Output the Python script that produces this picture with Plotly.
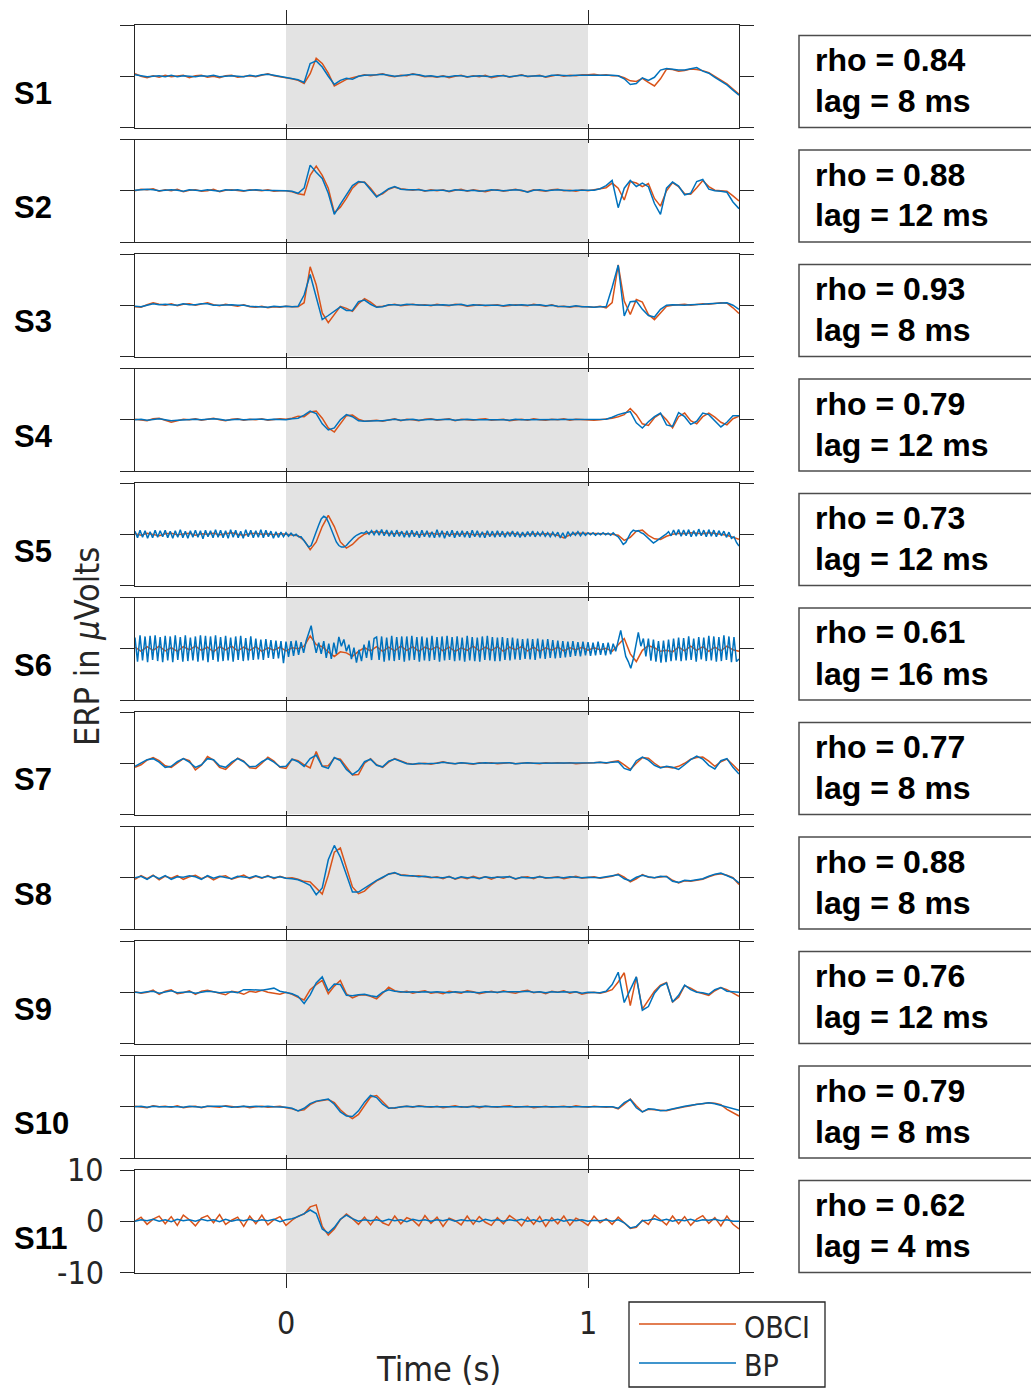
import plotly.graph_objects as go

W, H = 1031, 1391

# ---------------- data ----------------
# common time axis (s), 0.02 s steps from -0.5 to 1.5
t = [round(-0.5 + 0.02 * i, 4) for i in range(101)]
# finer time axis (1/120 s) used for the two BP traces with line noise
t_fine = [round(-0.5 + k / 120.0, 5) for k in range(241)]

subjects = ["S1", "S2", "S3", "S4", "S5", "S6", "S7", "S8", "S9", "S10", "S11"]
rho = ["0.84", "0.88", "0.93", "0.79", "0.73", "0.61", "0.77", "0.88", "0.76", "0.79", "0.62"]
lag_ms = [8, 12, 8, 12, 12, 16, 8, 8, 12, 8, 4]

s1_obci = [0.5, 0.0, -0.3, 0.1, -0.2, 0.2, -0.1, 0.0, 0.2, -0.3,
           0.1, 0.2, -0.2, 0.0, -0.3, 0.1, 0.2, -0.2, 0.0, 0.1,
           -0.1, 0.2, 0.5, 0.1, -0.1, -0.2, -0.5, -0.8, -1.4, 0.5,
           3.5, 2.5, 0.6, -1.9, -1.2, -0.6, -0.3, 0.0, 0.3, 0.1,
           0.3, 0.5, 0.1, -0.1, 0.2, 0.1, 0.5, 0.2, -0.1, 0.0,
           -0.2, 0.1, -0.3, 0.0, 0.2, -0.2, 0.1, -0.1, 0.2, -0.3,
           0.0, 0.2, -0.2, 0.1, 0.3, -0.1, 0.0, 0.2, -0.2, 0.1,
           0.3, 0.0, 0.2, 0.1, 0.3, 0.3, 0.4, 0.2, 0.3, 0.1,
           0.1, -0.3, -0.9, -1.0, -0.4, -1.2, -1.9, -0.5, 1.4, 1.3,
           1.0, 1.1, 1.4, 1.3, 1.1, 0.7, 0.0, -0.7, -1.5, -2.5,
           -3.5]
s1_bp = [0.3, 0.1, -0.1, 0.0, 0.1, -0.1, 0.2, -0.1, 0.1, 0.0,
         -0.1, 0.1, 0.0, 0.2, -0.1, 0.0, 0.1, 0.0, -0.1, 0.2,
         0.0, 0.3, 0.4, 0.2, 0.0, -0.2, -0.4, -0.7, -1.2, 2.5,
         3.0, 1.8, 0.0, -1.6, -0.8, -0.4, -0.6, 0.0, 0.2, 0.2,
         0.3, 0.4, 0.2, 0.0, 0.1, 0.2, 0.4, 0.3, 0.0, 0.1,
         -0.1, 0.0, -0.1, 0.1, 0.1, -0.1, 0.0, 0.1, 0.0, -0.1,
         0.1, 0.1, -0.1, 0.0, 0.2, 0.0, 0.1, 0.1, -0.1, 0.2,
         0.2, 0.1, 0.1, 0.2, 0.2, 0.3, 0.3, 0.3, 0.2, 0.2,
         0.1, -0.5, -1.6, -1.4, -0.3, -0.8, -0.2, 1.2, 1.5, 1.3,
         1.2, 1.2, 1.5, 1.7, 1.0, 0.6, -0.2, -0.9, -1.7, -2.7,
         -3.7]

s2_obci = [0.0, 0.3, 0.2, 0.4, -0.1, 0.2, 0.0, 0.3, -0.2, 0.1,
           0.2, -0.1, 0.0, 0.3, -0.2, 0.1, 0.2, 0.0, -0.1, 0.2,
           0.1, 0.0, 0.2, -0.1, 0.0, 0.0, -0.2, -0.6, -0.8, 3.0,
           4.8, 3.0, 0.5, -4.3, -3.2, -1.5, 0.5, 1.6, 1.7, 0.5,
           -1.0, -0.6, 0.3, 0.7, 0.4, 0.3, 0.1, 0.3, -0.1, 0.2,
           0.0, 0.2, -0.2, 0.1, 0.3, -0.1, 0.2, 0.0, -0.2, 0.1,
           0.2, -0.1, 0.1, 0.3, 0.0, -0.2, 0.2, 0.1, -0.1, 0.2,
           0.3, 0.0, 0.1, -0.1, 0.2, 0.0, 0.2, 0.3, 0.6, 1.5,
           0.5, -1.8, 1.8, 1.5, 0.8, 1.4, -1.5, -3.0, 0.0, 1.6,
           0.8, -0.6, -0.7, 0.6, 2.0, 0.8, 0.1, 0.0, -0.1, -1.0,
           -2.0]
s2_bp = [0.1, 0.2, 0.3, 0.2, 0.0, 0.1, 0.2, 0.1, -0.1, 0.2,
         0.1, 0.0, 0.2, 0.1, -0.1, 0.2, 0.1, 0.2, 0.0, 0.1,
         0.2, 0.1, 0.1, 0.0, 0.1, 0.0, -0.1, -0.5, 0.5, 5.0,
         3.6, 2.4, -0.5, -4.6, -2.6, -0.9, 1.0, 1.8, 1.6, 0.2,
         -1.2, -0.4, 0.4, 0.8, 0.3, 0.2, 0.2, 0.2, 0.0, 0.1,
         0.1, 0.1, -0.1, 0.2, 0.1, 0.0, 0.1, -0.1, 0.0, 0.2,
         0.1, 0.0, 0.1, 0.2, 0.1, -0.3, 0.1, 0.2, 0.0, 0.1,
         0.2, 0.1, 0.0, 0.1, 0.1, 0.0, 0.1, 0.4, 1.0, 2.0,
         -3.3, 0.5, 2.0, 0.8, 1.5, 0.8, -2.5, -4.6, 0.5, 1.7,
         0.9, -0.8, -0.5, 1.8, 2.2, 0.3, 0.0, -0.1, -0.3, -2.2,
         -3.5]

s3_obci = [-0.3, -0.4, 0.1, 0.5, 0.2, 0.0, 0.3, -0.1, 0.2, 0.3,
           0.0, 0.2, 0.5, 0.1, -0.1, 0.2, 0.0, -0.2, 0.1, -0.3,
           -0.4, -0.2, -0.5, -0.3, -0.4, -0.2, -0.3, -0.3, 0.5, 7.5,
           4.0, -1.5, -3.4, -1.8, -0.2, -0.6, -1.2, 0.3, 1.3, 0.6,
           -0.3, -0.2, 0.0, 0.2, -0.1, 0.1, 0.2, 0.0, 0.1, -0.1,
           0.2, 0.0, -0.1, 0.2, 0.1, -0.2, 0.0, 0.1, -0.1, 0.0,
           0.1, -0.2, 0.0, 0.1, 0.0, -0.1, 0.2, 0.0, -0.2, 0.1,
           -0.3, -0.2, -0.4, -0.2, -0.3, -0.3, -0.4, -0.2, -0.5, 0.5,
           7.9, 0.8, -1.8, 1.1, 0.6, -1.8, -2.8, -1.5, -0.2, 0.0,
           0.1, 0.2, 0.0, 0.2, 0.3, 0.2, 0.4, 0.5, 0.4, -0.5,
           -1.6]
s3_bp = [-0.2, -0.3, 0.0, 0.3, 0.1, 0.2, 0.1, 0.0, 0.3, 0.1,
         0.1, 0.3, 0.3, 0.0, 0.0, 0.1, 0.1, 0.0, 0.0, -0.2,
         -0.3, -0.3, -0.4, -0.2, -0.3, -0.2, -0.3, -0.2, 2.0, 6.0,
         1.5, -2.8, -2.0, -1.2, -0.3, -1.0, -1.0, 0.7, 1.0, 0.2,
         -0.4, -0.3, 0.1, 0.1, 0.0, 0.2, 0.1, 0.1, 0.0, 0.0,
         0.1, 0.1, 0.0, 0.1, 0.2, -0.1, 0.1, 0.0, 0.0, 0.1,
         0.0, -0.1, 0.1, 0.0, 0.1, 0.0, 0.1, 0.1, -0.1, 0.0,
         -0.2, -0.3, -0.3, -0.1, -0.3, -0.3, -0.4, -0.3, -0.3, 3.5,
         7.8, -2.1, 0.7, 0.8, -0.8, -2.0, -2.3, -0.8, 0.0, 0.1,
         0.0, 0.0, 0.1, 0.1, 0.2, 0.3, 0.4, 0.5, 0.5, 0.0,
         -0.8]

s4_obci = [0.1, 0.0, -0.2, 0.2, 0.3, -0.1, -0.5, -0.2, 0.1, 0.0,
           0.2, -0.1, 0.1, 0.3, 0.0, -0.2, 0.1, 0.2, -0.1, 0.1,
           0.0, 0.2, -0.1, 0.1, 0.2, 0.1, 0.3, 0.7, 0.6, 1.5,
           1.7, 0.3, -1.6, -2.4, -0.8, 0.8, 0.9, 0.1, -0.3, -0.2,
           -0.1, -0.3, 0.0, 0.2, -0.2, 0.1, 0.0, -0.2, 0.1, 0.2,
           -0.1, 0.0, 0.2, -0.2, 0.1, 0.0, -0.1, 0.1, 0.2, -0.1,
           0.0, 0.1, -0.2, 0.0, 0.1, -0.1, 0.2, 0.0, -0.1, 0.1,
           0.0, 0.2, -0.1, 0.1, 0.0, 0.0, -0.1, 0.0, 0.1, 0.3,
           0.6, 1.0, 2.2, 1.0, -0.8, -1.1, 0.4, 1.2, 0.0, -1.6,
           0.6, 1.3, -0.2, -0.8, 0.6, 1.3, 0.5, -0.5, -1.0, 0.2,
           0.7]
s4_bp = [0.0, 0.1, -0.1, 0.1, 0.2, 0.0, -0.2, -0.1, 0.0, 0.1,
         0.1, 0.0, 0.1, 0.2, 0.1, -0.1, 0.0, 0.1, 0.0, 0.1,
         0.1, 0.1, 0.0, 0.1, 0.1, 0.0, 0.2, 0.3, 0.9, 1.7,
         1.2, -0.8, -2.0, -1.6, 0.0, 1.0, 0.6, -0.2, -0.3, -0.2,
         -0.2, -0.2, 0.0, 0.1, -0.1, 0.0, 0.1, -0.1, 0.0, 0.1,
         0.0, 0.1, 0.1, -0.1, 0.0, 0.1, 0.0, 0.0, 0.1, 0.0,
         0.0, 0.0, -0.1, 0.1, 0.0, 0.0, 0.1, 0.0, 0.0, 0.1,
         0.0, 0.1, 0.0, 0.0, 0.1, 0.0, 0.0, 0.1, 0.1, 0.5,
         1.0, 1.3, 1.6, -0.6, -1.6, -0.4, 0.6, 1.3, -1.0, -1.3,
         1.4, 0.6, -0.9, -0.3, 1.3, 1.0, -0.3, -1.4, -0.5, 0.8,
         0.8]

s5_obci = [0.1, -0.2, 0.2, 0.0, -0.3, 0.1, 0.2, -0.1, 0.0, 0.2,
           -0.2, 0.1, 0.0, 0.2, -0.1, 0.1, 0.3, 0.0, -0.2, 0.1,
           0.2, 0.0, 0.1, -0.1, 0.1, 0.0, -0.1, -0.3, -1.2, -3.0,
           -1.5, 1.5, 3.7, 1.5, -1.5, -2.7, -2.0, -0.8, 0.0, 0.4,
           0.5, 0.3, 0.2, 0.1, 0.3, 0.0, 0.2, -0.1, 0.1, 0.2,
           0.0, 0.2, -0.1, 0.1, 0.0, 0.2, -0.1, 0.0, 0.1, -0.1,
           0.1, 0.0, 0.2, 0.1, -0.1, 0.0, 0.1, 0.0, 0.1, 0.0,
           -0.2, -0.7, -0.1, 0.2, 0.2, 0.1, 0.1, 0.2, 0.1, 0.0,
           -0.2, -1.2, -0.6, 0.6, 0.8, -0.2, -0.9, -1.0, -0.4, 0.0,
           0.2, 0.1, 0.3, 0.2, 0.1, 0.3, 0.2, 0.0, -0.2, -0.6,
           -1.0]
s5_bp = [0.6, -0.7, 0.8, -0.6, 0.7, -0.8, 0.5, -0.7, 0.8, -0.6, 0.7, -0.5,
         0.8, -0.7, 0.6, -0.8, 0.7, -0.6, 0.9, -0.7, 0.6, -0.8, 0.7, -0.6,
         0.8, -0.6, 0.7, -0.9, 0.8, -0.5, 0.7, -0.7, 0.9, -0.6, 0.8, -0.7,
         0.7, -0.8, 0.9, -0.6, 0.8, -0.7, 0.6, -0.8, 0.9, -0.5, 0.8, -0.7,
         0.7, -0.6, 0.9, -0.7, 0.8, -0.5, 0.6, -0.8, 0.5, -0.6, 0.4, -0.5,
         0.3, -0.4, 0.2, -0.3, 0.0, -0.5, -0.5, -1.2, -1.8, -2.5, -2.2, -1.0,
         0.5, 1.8, 3.0, 3.5, 3.2, 2.2, 1.0, -0.3, -1.5, -2.2, -2.5, -2.5,
         -2.2, -1.6, -1.0, -0.6, -0.2, 0.1, 0.3, 0.2, 0.6, 0.0, 0.7, -0.1,
         0.8, -0.2, 0.9, -0.3, 0.8, -0.4, 0.7, -0.5, 0.8, -0.4, 0.6, -0.6,
         0.7, -0.6, 0.8, -0.5, 0.6, -0.7, 0.8, -0.5, 0.7, -0.6, 0.5, -0.7,
         0.9, -0.6, 0.7, -0.8, 0.6, -0.5, 0.8, -0.7, 0.6, -0.5, 0.7, -0.6,
         0.6, -0.7, 0.8, -0.5, 0.7, -0.6, 0.5, -0.7, 0.7, -0.5, 0.6, -0.6,
         0.7, -0.5, 0.6, -0.6, 0.5, -0.4, 0.6, -0.5, 0.5, -0.6, 0.4, -0.5,
         0.5, -0.4, 0.6, -0.5, 0.4, -0.3, 0.5, -0.4, 0.3, -0.5, 0.4, -0.4,
         0.4, -0.7, 0.3, -0.8, 0.5, -0.3, 0.4, -0.2, 0.5, -0.3, 0.4, -0.2,
         0.3, -0.1, 0.3, -0.2, 0.2, -0.1, 0.3, -0.1, 0.2, -0.2, 0.3, -0.2,
         -0.5, -1.2, -2.0, -1.6, -0.6, 0.3, 0.8, 0.6, 0.7, 0.3, 0.1, -0.4,
         -0.8, -1.3, -1.7, -1.4, -1.0, -0.6, -0.3, 0.0, 0.5, -0.3, 0.8, -0.2,
         0.9, -0.4, 0.8, -0.3, 0.9, -0.5, 0.7, -0.4, 1.0, -0.3, 0.8, -0.5,
         0.9, -0.4, 0.8, -0.5, 0.7, -0.3, 0.6, -0.6, 0.4, -0.8, -0.5, -1.6,
         -2.3]

s6_obci = [0.3, -0.5, 0.4, -0.3, 0.5, -0.4, 0.2, -0.5, 0.4, -0.2,
           0.5, -0.3, 0.3, -0.6, 0.4, -0.2, 0.5, -0.4, 0.3, -0.3,
           0.4, -0.5, 0.2, -0.3, 0.3, -0.4, 0.2, 0.0, 0.5, 2.5,
           0.8, 0.4, -0.6, -1.5, -0.6, -0.8, -1.5, -0.5, 0.2, -0.4,
           0.4, -0.5, 0.3, -0.4, 0.5, -0.3, 0.4, -0.5, 0.3, -0.2,
           0.4, -0.4, 0.3, -0.5, 0.2, -0.3, 0.5, -0.4, 0.3, -0.3,
           0.4, -0.5, 0.3, -0.2, 0.4, -0.4, 0.3, -0.5, 0.2, -0.3,
           0.3, -0.4, 0.2, -0.2, 0.3, -0.3, 0.2, -0.2, 0.1, -0.5,
           0.8, 2.0, -1.0, -2.5, -0.3, 0.6, 0.2, -0.5, -0.3, -0.6,
           0.3, -0.4, 0.5, -0.3, 0.4, -0.5, 0.3, -0.4, 0.5, -0.2,
           -0.5]
s6_bp = [2.2, -2.5, 2.6, -2.3, 2.4, -2.6, 2.5, -2.2, 2.6, -2.4, 2.3, -2.6,
         2.5, -2.3, 2.4, -2.6, 2.6, -2.2, 2.3, -2.5, 2.6, -2.4, 2.2, -2.3,
         2.4, -2.5, 2.6, -2.3, 2.5, -2.6, 2.4, -2.2, 2.6, -2.5, 2.3, -2.4,
         2.5, -2.3, 2.2, -2.5, 2.4, -2.2, 2.5, -2.4, 2.1, -2.3, 2.4, -2.2,
         2.0, -2.1, 1.8, -2.2, 1.9, -1.8, 1.7, -2.0, 1.6, -1.9, 1.5, -2.8,
         1.4, -1.6, 1.5, -1.4, 1.6, -1.2, 1.3, -0.8, 1.5, 3.0, 4.5, 1.5,
         -0.8, 1.2, -1.0, 1.5, -1.8, 1.0, -2.0, 1.2, -1.0, 2.3, 0.5, 1.8,
         -0.5, 0.8, -2.0, 0.2, -2.7, -0.2, -2.4, 0.8, -1.8, 1.6, -2.2, 2.0,
         2.3, -2.2, 2.4, -2.5, 2.2, -2.3, 2.5, -2.4, 2.3, -2.2, 2.4, -2.5,
         2.4, -2.3, 2.5, -2.2, 2.3, -2.5, 2.4, -2.3, 2.2, -2.4, 2.5, -2.2,
         2.3, -2.5, 2.4, -2.3, 2.5, -2.2, 2.3, -2.4, 2.4, -2.3, 2.2, -2.5,
         2.5, -2.3, 2.3, -2.4, 2.2, -2.5, 2.4, -2.2, 2.5, -2.3, 2.3, -2.4,
         2.2, -2.4, 2.3, -2.2, 2.1, -2.3, 2.2, -2.1, 2.0, -2.2, 1.9, -2.0,
         2.0, -2.1, 1.9, -2.2, 2.0, -1.9, 1.8, -2.0, 1.9, -1.8, 1.7, -1.9,
         1.6, -1.8, 1.5, -1.7, 1.4, -1.6, 1.5, -1.4, 1.3, -1.5, 1.4, -1.3,
         1.3, -1.4, 1.2, -1.3, 1.4, -1.2, 1.1, -1.3, 1.2, -1.1, 1.0, -0.5,
         1.5, 3.6, 1.0, -1.5, -2.5, -3.8, -2.0, 0.5, 3.2, 0.5, 2.0, -1.5,
         2.0, -2.3, 1.8, -2.5, 1.5, -2.7, 1.6, -2.6, 1.8, -2.4, 2.0, -2.3,
         2.2, -2.4, 2.1, -2.3, 2.4, -2.2, 2.0, -2.5, 2.3, -2.1, 2.2, -2.4,
         2.5, -2.3, 2.4, -2.5, 2.3, -2.4, 2.6, -2.2, 2.4, -2.6, 2.3, -2.5,
         -2.0]

s7_obci = [-0.8, -0.3, 0.6, 1.1, 0.5, -0.5, -0.8, 0.0, 0.9, 0.5,
           -1.3, -0.4, 1.3, 0.6, -0.8, -1.2, 0.0, 1.0, 0.4, -0.9,
           -1.0, 0.0, 1.2, 0.4, -0.8, -1.0, 0.8, 0.5, -0.3, -0.9,
           2.3, -0.6, -0.5, 1.0, 0.8, -0.8, -2.3, -2.2, 0.0, 0.9,
           -0.3, -0.8, 0.2, 0.9, 0.5, 0.0, -0.2, -0.1, 0.0, -0.2,
           0.1, 0.3, 0.0, -0.1, 0.1, 0.0, -0.2, 0.1, 0.0, 0.1,
           -0.1, 0.0, 0.1, -0.1, 0.0, 0.1, 0.0, -0.1, 0.1, 0.0,
           0.1, 0.0, 0.1, -0.1, 0.0, 0.0, 0.1, 0.2, 0.0, 0.3,
           0.5, -0.3, -1.2, 0.0, 1.1, 1.0, 0.0, -0.8, -0.7, -0.9,
           -0.6, 0.0, 0.8, 1.1, 1.2, 0.4, -0.6, 0.3, 0.8, -0.3,
           -1.5]
s7_bp = [-0.6, 0.0, 0.7, 0.9, 0.2, -0.8, -0.6, 0.3, 0.9, 0.2,
         -0.8, -0.3, 0.9, 0.7, -0.5, -0.8, 0.2, 0.9, 0.3, -0.7,
         -0.6, 0.3, 0.9, 0.2, -0.7, -0.6, 0.8, 0.3, -0.6, 0.9,
         1.6, -0.6, -1.0, 1.1, 0.5, -1.2, -2.2, -1.4, 0.3, 0.8,
         -0.4, -0.7, 0.4, 0.8, 0.3, -0.1, -0.2, 0.0, -0.1, -0.1,
         0.0, 0.2, 0.0, -0.1, 0.1, 0.0, -0.1, 0.0, 0.1, 0.0,
         0.0, 0.0, 0.1, -0.1, 0.0, 0.1, 0.0, 0.0, 0.0, 0.1,
         0.0, 0.1, 0.0, 0.0, 0.0, 0.1, 0.1, 0.2, 0.1, 0.2,
         0.3, -1.0, -1.4, 0.5, 1.2, 0.6, -0.4, -0.9, -0.6, -0.8,
         -1.2, -0.3, 0.7, 1.4, 0.8, -0.4, -1.1, 0.5, 0.9, -0.8,
         -2.1]

s8_obci = [-0.3, 0.4, -0.2, 0.5, -0.4, 0.3, -0.1, 0.4, -0.3, 0.2,
           0.5, -0.2, 0.3, -0.4, 0.2, 0.4, -0.3, 0.1, 0.5, -0.2,
           0.3, -0.1, 0.4, -0.2, 0.3, -0.1, 0.0, -0.3, -0.7, -0.8,
           -2.0, -3.2, 0.5, 5.0, 5.8, 2.0, -1.8, -3.1, -2.6, -1.5,
           -0.6, 0.0, 0.8, 0.9, 0.6, 0.5, 0.3, 0.4, 0.2, 0.0,
           0.2, -0.2, 0.3, -0.3, 0.1, -0.2, 0.3, -0.1, 0.2, -0.3,
           0.2, -0.1, 0.3, -0.3, 0.1, 0.2, -0.2, 0.3, -0.1, 0.1,
           0.2, -0.2, 0.1, 0.3, -0.1, 0.0, 0.2, -0.1, 0.1, 0.3,
           0.7, 0.1, -0.8, -0.2, 0.6, 0.1, 0.0, 0.2, 0.3, -0.5,
           -1.0, -0.6, -0.7, -0.5, -0.3, 0.2, 0.6, 0.8, 0.5, 0.0,
           -1.3]
s8_bp = [0.0, 0.3, -0.3, 0.4, -0.2, 0.4, -0.3, 0.2, 0.1, 0.4,
         0.2, -0.3, 0.4, -0.1, 0.3, 0.1, -0.2, 0.3, 0.2, 0.0,
         0.4, 0.0, 0.3, 0.0, 0.2, -0.1, -0.2, -0.4, -0.9, -1.5,
         -3.3, -2.0, 3.5, 6.3, 4.0, 0.5, -2.8, -2.8, -2.0, -1.2,
         -0.5, 0.1, 0.7, 1.0, 0.5, 0.4, 0.4, 0.2, 0.3, 0.1,
         0.1, 0.0, 0.2, -0.2, 0.2, 0.0, 0.1, -0.2, 0.2, 0.0,
         0.1, 0.1, 0.2, -0.2, 0.1, 0.0, 0.0, 0.2, 0.0, 0.0,
         0.1, 0.0, 0.2, 0.1, 0.0, 0.1, 0.1, 0.0, 0.2, 0.4,
         0.6, -0.2, -0.6, 0.1, 0.5, 0.2, 0.0, 0.3, 0.2, -0.7,
         -0.9, -0.5, -0.6, -0.4, -0.2, 0.3, 0.7, 0.9, 0.4, -0.1,
         -1.0]

s9_obci = [0.1, -0.2, 0.0, 0.4, -0.4, 0.2, 0.5, -0.3, -0.1, 0.3,
           -0.4, 0.2, 0.4, 0.1, -0.3, -0.5, 0.2, 0.0, -0.4, 0.2,
           0.0, 0.4, 0.0, -0.2, -0.4, 0.0, -0.4, -1.0, -1.5, 0.5,
           1.5, 2.3, -0.3, 1.2, 2.3, -0.3, -1.1, -0.6, -0.5, -0.8,
           -1.3, -0.2, 1.0, 0.3, 0.0, 0.2, -0.2, 0.1, 0.3, -0.2,
           0.0, -0.3, 0.2, 0.0, -0.2, 0.3, 0.1, -0.3, 0.0, 0.2,
           -0.1, 0.3, 0.0, -0.2, 0.2, 0.4, -0.1, 0.1, -0.3, 0.2,
           0.0, 0.3, -0.2, 0.1, -0.4, -0.1, 0.0, -0.2, 0.1, 0.5,
           2.0, 3.8, -2.6, 3.0, -3.3, -1.5, 0.2, 1.4, 1.9, -1.9,
           -1.0, 1.3, 0.8, 0.1, -0.2, -0.6, 0.3, 0.9, 0.5, -0.2,
           -0.8]
s9_bp = [0.0, -0.1, 0.1, 0.2, -0.2, 0.1, 0.3, -0.1, 0.0, 0.1,
         -0.2, 0.0, 0.2, 0.1, -0.1, 0.0, 0.1, -0.1, 0.5, 0.5,
         0.4, 0.4, 0.6, 0.8, 0.2, 0.0, -0.3, -0.8, -2.2, -0.5,
         1.8, 3.0, 0.3, 1.6, 1.5, -0.6, -0.7, -0.5, -0.4, -0.7,
         -0.9, 0.0, 0.5, 0.2, 0.1, 0.0, 0.1, 0.0, 0.1, 0.0,
         0.1, 0.0, -0.1, 0.1, 0.0, 0.1, 0.0, -0.1, 0.1, 0.0,
         0.0, 0.1, 0.1, 0.0, 0.1, 0.2, 0.0, 0.1, -0.1, 0.1,
         0.0, 0.1, 0.0, 0.1, -0.2, 0.0, 0.0, -0.1, 0.2, 1.5,
         3.9, -2.0, 0.5, 3.0, -3.5, -2.8, -0.2, 1.2, 1.8, -1.9,
         -0.6, 1.4, 0.5, 0.0, -0.1, -0.4, 0.5, 0.9, 0.2, 0.1,
         0.0]

s10_obci = [0.1, 0.0, -0.2, 0.2, 0.0, 0.1, -0.1, 0.2, -0.2, 0.0,
            0.1, -0.2, 0.1, 0.0, -0.1, 0.2, 0.0, -0.1, 0.1, -0.2,
            0.0, 0.1, -0.1, 0.0, 0.1, -0.2, -0.4, -0.8, -0.6, 0.4,
            1.0, 1.2, 1.4, 0.8, -0.6, -1.6, -2.3, -1.5, 0.3, 1.9,
            2.2, 1.0, -0.2, -0.3, 0.0, 0.1, -0.1, 0.2, 0.0, -0.1,
            0.1, -0.2, 0.0, 0.2, -0.1, 0.0, 0.1, -0.2, 0.1, 0.0,
            -0.1, 0.1, 0.2, -0.1, 0.0, 0.1, -0.2, 0.0, 0.1, -0.1,
            0.0, 0.1, -0.1, 0.2, 0.0, -0.1, 0.1, 0.0, -0.1, 0.0,
            -0.4, 0.5, 1.5, 0.2, -1.0, -0.5, -0.6, -0.8, -0.8, -0.5,
            -0.2, 0.0, 0.2, 0.5, 0.6, 0.8, 0.7, 0.4, -0.5, -1.2,
            -1.8]
s10_bp = [0.0, 0.1, -0.1, 0.1, 0.0, 0.0, 0.1, 0.0, -0.1, 0.1,
          0.0, -0.1, 0.1, 0.1, 0.0, 0.1, -0.1, 0.0, 0.1, 0.0,
          0.1, 0.0, 0.1, 0.0, 0.0, -0.1, -0.3, -0.8, -0.3, 0.6,
          1.1, 1.3, 1.5, 0.5, -1.0, -1.8, -1.9, -0.8, 0.9, 2.2,
          1.8, 0.5, -0.3, -0.2, 0.0, 0.1, 0.0, 0.1, 0.0, 0.0,
          0.1, 0.0, 0.1, 0.1, 0.0, -0.1, 0.1, 0.0, 0.1, 0.0,
          0.0, 0.1, 0.1, 0.0, 0.0, 0.1, 0.0, 0.0, 0.1, 0.0,
          0.0, 0.1, 0.0, 0.1, 0.0, 0.0, 0.1, 0.0, 0.0, 0.0,
          -0.3, 0.8, 1.4, -0.2, -1.0, -0.4, -0.5, -0.8, -0.7, -0.4,
          -0.1, 0.1, 0.3, 0.5, 0.6, 0.8, 0.6, 0.3, 0.0, -0.4,
          -0.7]

s11_obci = [0.0, 0.8, -0.6, 0.4, 1.0, -0.5, 0.9, -0.8, 1.2, 0.3,
            -0.9, 0.6, 1.1, -0.3, 1.3, -0.6, 0.2, 0.8, -1.0, 1.0,
            -0.5, 1.2, -0.7, 0.3, 0.9, -0.8, 0.2, 1.0, 1.4, 2.8,
            3.2, -1.0, -2.7, -1.5, 0.3, 1.4, 0.5, -0.6, 0.8, -0.7,
            0.9, -0.3, -0.8, 1.0, -0.5, 0.7, 0.2, -0.9, 1.1, -0.4,
            0.8, -1.0, 0.6, 0.1, -0.7, 1.0, -0.6, 0.9, -0.2, -0.8,
            0.7, -0.5, 1.1, 0.3, -0.9, 0.8, -0.6, 0.9, -1.0, 0.7,
            -0.5, 1.0, -0.8, 0.6, 0.0, -0.8, 1.0, -0.3, 0.5, -0.6,
            0.8, -0.4, -1.4, -1.2, 0.2, -0.6, 1.2, 0.3, -0.7, 1.0,
            -0.5, 0.9, -0.8, 0.4, 1.1, -0.4, 0.7, -0.9, 1.0, -0.6,
            -1.5]
s11_bp = [0.0, 0.3, 0.1, 0.4, 0.0, 0.3, -0.1, 0.4, 0.1, 0.3,
          0.0, 0.4, 0.1, 0.3, -0.1, 0.4, 0.0, 0.3, 0.1, 0.4,
          0.0, 0.3, 0.1, 0.4, -0.1, 0.3, 0.5, 0.9, 1.5, 2.2,
          1.5, -1.5, -2.3, -1.2, 0.4, 1.2, 0.5, 0.0, 0.3, 0.1,
          0.3, 0.0, 0.4, 0.1, 0.3, -0.1, 0.4, 0.1, 0.3, 0.0,
          0.3, 0.1, 0.4, 0.0, 0.3, 0.1, 0.2, -0.1, 0.4, 0.1,
          0.3, 0.0, 0.3, 0.1, 0.4, 0.0, 0.3, -0.1, 0.3, 0.1,
          0.4, 0.0, 0.3, 0.1, 0.3, 0.0, 0.2, 0.1, 0.3, 0.0,
          0.3, -0.3, -1.3, -1.0, 0.1, 0.2, 0.5, 0.1, 0.4, 0.0,
          0.3, 0.1, 0.4, 0.0, 0.3, 0.2, 0.4, 0.1, 0.3, 0.0,
          0.0]

obci_series = [s1_obci, s2_obci, s3_obci, s4_obci, s5_obci, s6_obci,
               s7_obci, s8_obci, s9_obci, s10_obci, s11_obci]
bp_series = [s1_bp, s2_bp, s3_bp, s4_bp, s5_bp, s6_bp,
             s7_bp, s8_bp, s9_bp, s10_bp, s11_bp]

# ---------------- style ----------------
C_OBCI = "#D95319"
C_BP = "#0072BD"
AX = "#262626"
SHADE = "#E3E3E3"
REG_FONT = "DejaVu Sans Condensed, Liberation Sans Narrow, Liberation Sans, Arial, sans-serif"
BOLD_FONT = "Liberation Sans, Arial, Helvetica, sans-serif"

X_L, X_R = 135, 739          # plot area (px)
TOP0, PITCH, PH = 25, 114.5, 102.5


def px(x):
    return x / W


def py(y):
    return 1 - y / H


fig = go.Figure()
layout = dict(width=W, height=H, margin=dict(l=0, r=0, t=0, b=0), autosize=False,
              paper_bgcolor="white", plot_bgcolor="white", showlegend=False)
shapes = []
annotations = []

for i in range(11):
    suf = "" if i == 0 else str(i + 1)
    top = TOP0 + PITCH * i
    bot = top + PH
    xb = t_fine if len(bp_series[i]) == len(t_fine) else t
    fig.add_trace(go.Scatter(x=t, y=obci_series[i], mode="lines", name="OBCI",
                             line=dict(color=C_OBCI, width=1.5),
                             xaxis="x" + suf, yaxis="y" + suf, hoverinfo="skip"))
    fig.add_trace(go.Scatter(x=xb, y=bp_series[i], mode="lines", name="BP",
                             line=dict(color=C_BP, width=1.5),
                             xaxis="x" + suf, yaxis="y" + suf, hoverinfo="skip"))
    layout["xaxis" + suf] = dict(domain=[px(X_L), px(X_R)], range=[-0.5, 1.5],
                                 anchor="y" + suf, showgrid=False, zeroline=False,
                                 showline=True, linecolor=AX, linewidth=1.3, mirror="ticks",
                                 ticks="outside", ticklen=14, tickwidth=1.3, tickcolor=AX,
                                 tickvals=[0, 1], showticklabels=False, fixedrange=True)
    layout["yaxis" + suf] = dict(domain=[py(bot), py(top)], range=[-10, 10],
                                 anchor="x" + suf, showgrid=False, zeroline=False,
                                 showline=True, linecolor=AX, linewidth=1.3, mirror="ticks",
                                 ticks="outside", ticklen=14, tickwidth=1.3, tickcolor=AX,
                                 tickvals=[-10, 0, 10], showticklabels=False, fixedrange=True)
    # stimulus window shading
    shapes.append(dict(type="rect", xref="x" + suf, yref="y" + suf, x0=0, x1=1, y0=-10, y1=10,
                       fillcolor=SHADE, line=dict(width=0), layer="below"))
    # subject label
    annotations.append(dict(text="<b>%s</b>" % subjects[i], xref="paper", yref="paper",
                            x=px(12), y=py(top + 68), xanchor="left", yanchor="middle",
                            showarrow=False, font=dict(family=BOLD_FONT, size=31, color="black")))
    # statistics box
    shapes.append(dict(type="rect", xref="paper", yref="paper", x0=px(799), x1=px(1050),
                       y0=py(bot), y1=py(top + 10.5), line=dict(color="#4D4D4D", width=1.5),
                       fillcolor="white", layer="above"))
    annotations.append(dict(text="<b>rho = %s</b>" % rho[i], xref="paper", yref="paper",
                            x=px(813), y=py(top + 35), xanchor="left", yanchor="middle",
                            showarrow=False, font=dict(family=BOLD_FONT, size=32, color="black")))
    annotations.append(dict(text="<b>lag = %d ms</b>" % lag_ms[i], xref="paper", yref="paper",
                            x=px(813), y=py(top + 76), xanchor="left", yanchor="middle",
                            showarrow=False, font=dict(family=BOLD_FONT, size=32, color="black")))

last_top = TOP0 + PITCH * 10
last_bot = last_top + PH
tick_font = dict(family=REG_FONT, size=32, color=AX)
# y tick labels of the bottom panel
for val, ypix in [("10", last_top), ("0", (last_top + last_bot) / 2), ("-10", last_bot)]:
    annotations.append(dict(text=val, xref="paper", yref="paper", x=px(106), y=py(ypix),
                            xanchor="right", yanchor="middle", showarrow=False, font=tick_font))
# x tick labels
for val, xv in [("0", 0.0), ("1", 1.0)]:
    xpix = X_L + (xv + 0.5) / 2.0 * (X_R - X_L)
    annotations.append(dict(text=val, xref="paper", yref="paper", x=px(xpix), y=py(1323),
                            xanchor="center", yanchor="middle", showarrow=False, font=tick_font))
# axis titles
annotations.append(dict(text="Time (s)", xref="paper", yref="paper", x=px(438), y=py(1369),
                        xanchor="center", yanchor="middle", showarrow=False,
                        font=dict(family=REG_FONT, size=34, color=AX)))
annotations.append(dict(text="ERP in <i>\u03bc</i>Volts", xref="paper", yref="paper", x=px(87), y=py(647),
                        xanchor="center", yanchor="middle", textangle=-90, showarrow=False,
                        font=dict(family=REG_FONT, size=34, color=AX)))

# legend (drawn manually to match the original box)
shapes.append(dict(type="rect", xref="paper", yref="paper", x0=px(629), x1=px(825),
                   y0=py(1387), y1=py(1302), line=dict(color=AX, width=1.3), fillcolor="white"))
shapes.append(dict(type="line", xref="paper", yref="paper", x0=px(639), x1=px(736),
                   y0=py(1324), y1=py(1324), line=dict(color=C_OBCI, width=1.6)))
shapes.append(dict(type="line", xref="paper", yref="paper", x0=px(639), x1=px(736),
                   y0=py(1363), y1=py(1363), line=dict(color=C_BP, width=1.6)))
leg_font = dict(family=REG_FONT, size=30, color=AX)
annotations.append(dict(text="OBCI", xref="paper", yref="paper", x=px(742), y=py(1327),
                        xanchor="left", yanchor="middle", showarrow=False, font=leg_font))
annotations.append(dict(text="BP", xref="paper", yref="paper", x=px(742), y=py(1365),
                        xanchor="left", yanchor="middle", showarrow=False, font=leg_font))

layout["shapes"] = shapes
layout["annotations"] = annotations
fig.update_layout(**layout)
fig.write_html("out.html", config={"displayModeBar": False},
               post_script="document.body.style.margin='0';document.body.style.overflow='hidden';")
